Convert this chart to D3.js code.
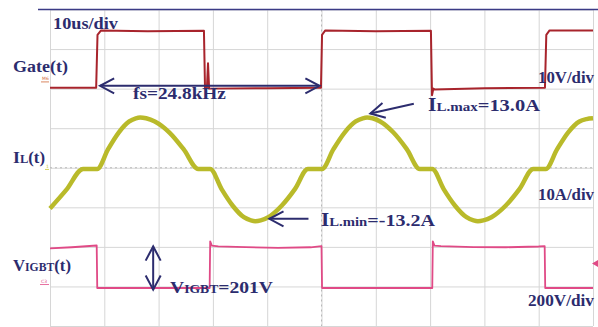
<!DOCTYPE html>
<html><head><meta charset="utf-8">
<script src="https://cdn.jsdelivr.net/npm/d3@7"></script>
<style>body{margin:0;background:#fff} svg{display:block}</style>
</head><body>
<svg id="scope" width="598" height="327"></svg>
<script>
// time axis in us (10us/div), vertical in divisions
const timeTicks = d3.range(0, 101, 10);
const divTicks = d3.range(-4, 5, 1);

// gate voltage (V), 10V/div
const gateT = [0, 8.5, 8.75, 9.4, 18, 28.35, 28.55, 28.9, 29.1, 29.3, 40, 49.9, 50.1, 50.7, 60, 70.15, 70.35, 70.6, 70.8, 80, 91.15, 91.4, 92, 100];
const gateV = [-2, -2, 11.4, 12.5, 12.3, 12.4, -2.2, -2.0, 4.2, -2.2, -2.1, -2.0, 11.4, 12.5, 12.3, 12.4, -3.9, -2.2, -2.4, -2.1, -2.0, 11.4, 12.5, 12.5];

// inductor current (A), 10A/div
const ilT = [0, 3, 6.1, 8.7, 10.7, 12.65, 14.6, 15.8, 16.6, 17.7, 19.3, 22, 24.6, 27.3,
             29.5, 31.6, 33.65, 35.7, 37.0, 37.8, 38.8, 40.2, 42.65, 45.1, 47.5,
             50.1, 52.2, 54.25, 56.3, 57.6, 58.4, 59.4, 60.8, 63.25, 65.7, 68.1,
             70.4, 72.5, 74.6, 76.7, 78.0, 78.8, 79.8, 81.3, 83.9, 86.45, 89,
             91.3, 93.4, 95.4, 97.5, 98.8, 100];
const ilA = [-10, -5.3, 0, 0, 5.0, 9.2, 12.0, 12.8, 13.0, 12.8, 12.0, 9.2, 5.0, 0,
             0, -5.1, -9.3, -12.2, -13.0, -13.2, -13.0, -12.2, -9.3, -5.1, 0,
             0, 5.0, 9.2, 12.0, 12.8, 13.0, 12.8, 12.0, 9.2, 5.0, 0,
             0, -5.1, -9.3, -12.2, -13.0, -13.2, -13.0, -12.2, -9.3, -5.1, 0,
             0, 5.0, 9.2, 12.0, 12.6, 12.8];

// IGBT voltage (V), 200V/div
const vT = [0, 4, 8.6, 8.7, 29.4, 29.5, 29.8, 31, 36, 42, 48, 50.0, 50.1, 70.4, 70.5, 70.8, 72, 78, 84, 90, 91.1, 91.2, 100];
const vV = [200, 206, 215, 0, 0, 236, 214, 211, 207, 203, 206, 212, 0, 0, 236, 214, 212, 207, 206, 210, 212, 0, 0];

const ink = '#2c2c6e';
const serif = '"Liberation Serif", "DejaVu Serif", serif';

const svg = d3.select('#scope');
const plot = {left: 50, right: 593, top: 9.5, bottom: 326};

const x = d3.scaleLinear().domain([0, 100]).range([plot.left, plot.right]);
const yDiv = d3.scaleLinear().domain([-4, 4]).range([plot.bottom, plot.top]);

// per channel: offset in divisions + units per division
function channel(offset, perDiv){
    return d3.scaleLinear().domain([0, perDiv]).range([yDiv(offset), yDiv(offset + 1)]);
}
const gateY = channel(2.22, 10);
const ilY = channel(-0.03, 10);
const vY = channel(-3.04, 200);

// grid
svg.append('g')
    .attr('transform', 'translate(0,' + plot.bottom + ')')
    .call(d3.axisBottom(x).tickValues(timeTicks).tickSize(-(plot.bottom - plot.top)).tickFormat(''))
    .call(g => g.select('.domain').remove())
    .call(g => g.selectAll('line').attr('stroke', '#d6d6d6'));
svg.append('g')
    .attr('transform', 'translate(' + plot.left + ',0)')
    .call(d3.axisLeft(yDiv).tickValues(divTicks).tickSize(-(plot.right - plot.left)).tickFormat(''))
    .call(g => g.select('.domain').remove())
    .call(g => g.selectAll('line').attr('stroke', '#d6d6d6'));

// dashed centre lines
svg.append('line')
    .attr('x1', x(0)).attr('x2', x(100)).attr('y1', yDiv(0)).attr('y2', yDiv(0))
    .attr('stroke', '#b8b8b8').attr('stroke-dasharray', '2,3');
svg.append('line')
    .attr('x1', x(50)).attr('x2', x(50)).attr('y1', plot.top).attr('y2', plot.bottom)
    .attr('stroke', '#b8b8b8').attr('stroke-dasharray', '2,3');

// top frame line
svg.append('line')
    .attr('x1', 38).attr('x2', 598).attr('y1', plot.top).attr('y2', plot.top)
    .attr('stroke', '#3b3b86').attr('stroke-width', 1.6);

// traces
function trace(ts, vs, yScale, color, width, curve){
    const line = d3.line()
        .x(i => x(ts[i]))
        .y(i => yScale(vs[i]))
        .curve(curve || d3.curveLinear);
    svg.append('path')
        .attr('d', line(d3.range(ts.length)))
        .attr('fill', 'none')
        .attr('stroke', color)
        .attr('stroke-width', width)
        .attr('stroke-linejoin', 'round');
}
trace(vT, vV, vY, '#e04a86', 1.8);
trace(ilT, ilA, ilY, '#b9ba2a', 4.5, d3.curveMonotoneX);
trace(gateT, gateV, gateY, '#a8242c', 2);

// channel markers
function marker(label, xx, yy, color){
    svg.append('text')
        .attr('x', xx).attr('y', yy)
        .attr('font-family', 'DejaVu Sans').attr('font-size', 4.5)
        .attr('fill', color).text(label);
    svg.append('line')
        .attr('x1', xx - 1).attr('x2', 49).attr('y1', yy + 1.5).attr('y2', yy + 1.5)
        .attr('stroke', color).attr('stroke-width', 0.8);
}
marker('M6', 42, gateY(0) + 0.5, '#d06a3a');
marker('1', 46, ilY(0) - 1, '#c7c530');
marker('C3', 41, vY(0) - 5, '#e04a86');
svg.append('path')
    .attr('d', 'M598,260 L592,263.5 L598,267 Z')
    .attr('fill', '#e04a86');

// arrows
function arrowHead(tip, angle){
    const len = 16, spread = 28 * Math.PI / 180;
    const a = angle * Math.PI / 180;
    const p1 = [tip[0] + len * Math.cos(a + spread), tip[1] + len * Math.sin(a + spread)];
    const p2 = [tip[0] + len * Math.cos(a - spread), tip[1] + len * Math.sin(a - spread)];
    svg.append('path')
        .attr('d', 'M' + p1 + 'L' + tip + 'L' + p2)
        .attr('fill', 'none').attr('stroke', ink).attr('stroke-width', 2);
}
function arrow(from, to, both){
    svg.append('line')
        .attr('x1', from[0]).attr('y1', from[1]).attr('x2', to[0]).attr('y2', to[1])
        .attr('stroke', ink).attr('stroke-width', 2);
    const ang = Math.atan2(from[1] - to[1], from[0] - to[0]) * 180 / Math.PI;
    arrowHead(to, ang);
    if(both) arrowHead(from, ang + 180);
}
const fsY = gateY(-2) - 2;
arrow([x(50.0) - 2, fsY], [x(8.66) + 3, fsY], true);
arrow([x(67), ilY(16.5)], [x(59), ilY(14)], false);
arrow([x(47.6), ilY(-12.6)], [x(40.4), ilY(-12.6)], false);
arrow([x(19.0), vY(-8)], [x(19.0), vY(210)], true);

// labels: stretched horizontally to the width seen in the picture
function label(xx, yy, width, parts){
    const t = svg.append('text')
        .attr('font-family', serif).attr('font-weight', 'bold')
        .attr('fill', ink);
    parts.forEach(p => t.append('tspan').attr('font-size', p[1]).text(p[0]));
    const w = t.node().getComputedTextLength();
    t.attr('transform', 'translate(' + xx + ',' + yy + ') scale(' + (width / w) + ',1)');
}
label(53, 29, 65, [['10us/div', 16.5]]);
label(13, 72, 55, [['Gate(t)', 16.5]]);
label(133, 99, 93, [['fs=24.8kHz', 16.5]]);
label(538, 83, 56, [['10V/div', 16]]);
label(428, 111, 112, [['I', 18], ['L.max', 12.5], ['=13.0A', 17]]);
label(13, 163, 32, [['I', 17], ['L', 12], ['(t)', 16]]);
label(538, 200, 56, [['10A/div', 16]]);
label(321, 226, 114, [['I', 18], ['L.min', 12.5], ['=-13.2A', 17]]);
label(13, 271, 58, [['V', 16.5], ['IGBT', 11.5], ['(t)', 16.5]]);
label(170, 293, 103, [['V', 16.5], ['IGBT', 11.5], ['=201V', 16.5]]);
label(528, 306, 66, [['200V/div', 16]]);
</script>
</body></html>
